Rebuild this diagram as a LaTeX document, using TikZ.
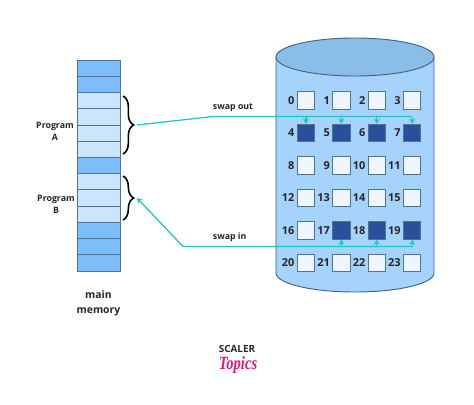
\documentclass[tikz,border=0pt]{standalone}
\usepackage{fontspec}
\setmainfont{Open Sans}
\newfontfamily\logofont{Liberation Serif}
\usepackage{tikz}
\usetikzlibrary{arrows.meta,positioning,calc,decorations.pathreplacing}
\definecolor{cellfull}{HTML}{7CBDFB}
\definecolor{cellprog}{HTML}{CCE5FC}
\definecolor{cellline}{HTML}{4F7496}
\definecolor{diskbody}{HTML}{A6D3FB}
\definecolor{disktop}{HTML}{8ABDE8}
\definecolor{diskline}{HTML}{3F6484}
\definecolor{pagefull}{HTML}{2A4F9B}
\definecolor{pageidle}{HTML}{F0F6FD}
\definecolor{swapline}{HTML}{1FC8BE}
\definecolor{logopink}{HTML}{D81B72}
\tikzset{
  cell/.style={rectangle, draw=cellline, line width=0.6pt, minimum width=32.25pt,
    minimum height=12.17pt, inner sep=0pt, outer sep=0pt},
  page/.style={rectangle, draw=cellline, line width=0.7pt, fill=pageidle,
    minimum size=13pt, inner sep=0pt},
  pagenum/.style={font=\bfseries\fontsize{8.2}{10}\selectfont, text=black!85, inner sep=0pt},
  annot/.style={font=\fontsize{6.6}{9}\selectfont\bfseries, text=black!85, align=center, inner sep=0pt},
  bracket/.style={decorate, decoration={brace, amplitude=8pt}, line width=1.2pt, draw=black},
  flow/.style={-{Stealth[length=4pt,width=4.6pt]}, line width=0.95pt, draw=swapline},
  wire/.style={line width=0.95pt, draw=swapline},
}
\begin{document}
\begin{tikzpicture}[x=0.75pt, y=-0.75pt]
  \useasboundingbox (0,0) rectangle (474,404);
  % main memory
  \foreach \i/\shade [count=\n from 0] in {a/cellfull,b/cellfull,c/cellprog,d/cellprog,e/cellprog,f/cellprog,
      g/cellfull,h/cellprog,i/cellprog,j/cellprog,k/cellfull,l/cellfull,m/cellfull}
    \node[cell, fill=\shade] (mem\i) at (98.5, 68.1+16.23*\n) {};
  \node[annot] (proga) at (55,131) {Program\\A};
  \node[annot] (progb) at (56,204) {Program\\B};
  \node[font=\fontsize{7.8}{11.25}\selectfont\bfseries, text=black!85, align=center, inner sep=0pt]
    (memlabel) at (98.5,303.5) {main\\memory};
  % braces, tips at (tipa) and (tipb)
  \coordinate (bra1) at (123,96);
  \coordinate (bra2) at (123,154);
  \coordinate (brb1) at (123,176);
  \coordinate (brb2) at (123,220);
  \draw[bracket] (bra1) -- (bra2);
  \draw[bracket] (brb1) -- (brb2);
  \coordinate (tipa) at (137,125);
  \coordinate (tipb) at (137,198);
  % disk
  \draw[draw=diskline, line width=0.7pt, fill=diskbody]
    (276,57) -- (276,273) arc[start angle=180, end angle=0, x radius=79, y radius=19]
    -- (434,57) -- cycle;
  \draw[draw=diskline, line width=0.7pt, fill=disktop] (355,57) ellipse[x radius=79, y radius=19];
  % pages
  \foreach \row in {0,...,5}
    \foreach \col in {0,...,3} {
      \pgfmathtruncatemacro{\num}{4*\row+\col}
      \node[page] (pg\num) at (306+35.4*\col, 100.5+32.5*\row) {};
      \node[pagenum, left=1.6pt of pg\num] (lb\num) {\num};
    }
  \foreach \num in {4,5,6,7,17,18,19}
    \node[page, fill=pagefull] (pgfull\num) at (pg\num) {};
  % swap out
  \coordinate (outbend) at (213,116.5);
  \coordinate (outend) at (pg7 |- outbend);
  \draw[wire] (tipa) -- (outbend) -- (outend);
  \foreach \num in {4,5,6,7} {
    \coordinate (outdrop) at (pg\num |- outbend);
    \draw[flow] (outdrop) -- (pg\num.north);
  }
  \node[annot, above=3.4pt of outbend, xshift=15pt] (outlabel) {swap out};
  % swap in
  \coordinate (inbend) at (183,246.5);
  \coordinate (instart) at (pg19 |- inbend);
  \draw[flow] (instart) -- (inbend) -- (tipb);
  \foreach \num in {17,18,19} {
    \coordinate (inrise) at (pg\num |- inbend);
    \draw[flow] (inrise) -- (pg\num.south);
  }
  \node[annot, above=3.4pt of inbend, xshift=35pt] (inlabel) {swap in};
  % logo
  \node[font=\fontsize{7.4}{8}\selectfont\bfseries, text=black!85, inner sep=0pt] (scaler) at (237,348.5) {SCALER};
  \node[font=\logofont\bfseries\itshape\fontsize{14}{14}\selectfont, text=logopink, inner sep=0pt, anchor=base,
    transform shape, xscale=0.78] (topics) at (238,369) {Topics};
\end{tikzpicture}
\end{document}
